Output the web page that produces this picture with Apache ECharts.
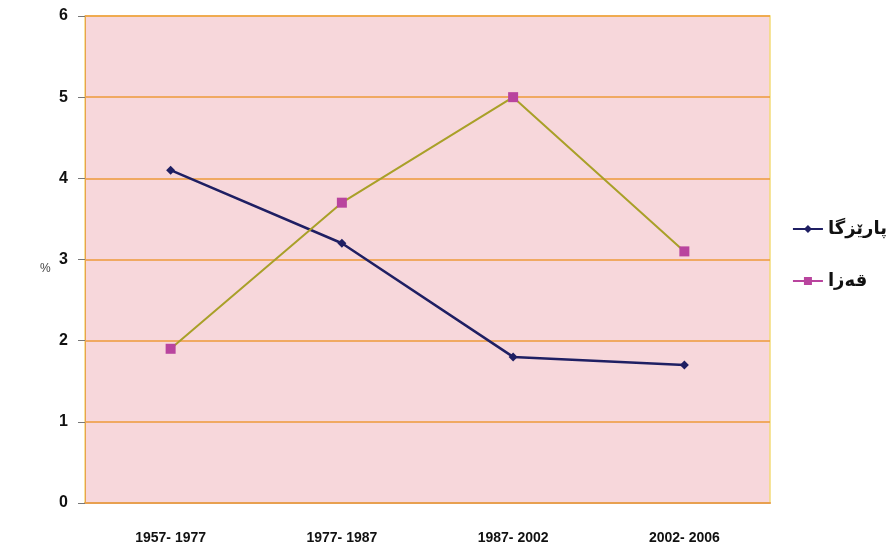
<!DOCTYPE html>
<html><head><meta charset="utf-8">
<script src="https://cdn.jsdelivr.net/npm/echarts@6/dist/echarts.min.js"></script>
<style>html,body{margin:0;padding:0;background:#fff}#c{width:895px;height:554px}</style>
</head><body><div id="c"></div>
<script>
const categories = ['1957- 1977','1977- 1987','1987- 2002','2002- 2006'];
const provinceValues = [4.1, 3.2, 1.8, 1.7];
const districtValues = [1.9, 3.7, 5.0, 3.1];
const seriesNames = ['پارێزگا','قەزا'];
const yUnit = '%';

const chart = echarts.init(document.getElementById('c'));
chart.setOption({
  animation:false,
  backgroundColor:'#ffffff',
  grid:{left:85,right:125,top:16,bottom:51,show:true,backgroundColor:'#f7d7db',borderColor:'#f4dc78',borderWidth:1.5},
  graphic:[{type:'text',left:40,top:263,style:{text:yUnit,fontSize:12,fill:'#444'}}],
  legend:{
    orient:'vertical', right:3, top:215, itemGap:34, itemWidth:30, itemHeight:10,
    textStyle:{fontSize:18,fontWeight:'bold',color:'#111',fontFamily:'Noto Sans, DejaVu Sans'},
    data:[
      {name:seriesNames[0]},
      {name:seriesNames[1],itemStyle:{color:'#b9449e'},lineStyle:{color:'#b9449e'}}
    ]
  },
  xAxis:{type:'category',data:categories,boundaryGap:true,
    axisLine:{lineStyle:{color:'#e8a050',width:2}},
    axisTick:{show:false},
    axisLabel:{margin:28,fontSize:14,fontWeight:900,color:'#111',fontFamily:'Liberation Sans Narrow, Liberation Sans'},
    splitLine:{show:false}},
  yAxis:{type:'value',min:0,max:6,interval:1,
    axisLine:{show:true,lineStyle:{color:'#e8a050',width:1}},
    axisTick:{show:true,length:7,lineStyle:{color:'#777'}},
    axisLabel:{margin:17,fontSize:16,fontWeight:900,color:'#111',fontFamily:'Liberation Sans'},
    splitLine:{lineStyle:{color:'#ee9a3a',width:1.5}}},
  series:[
    {name:seriesNames[0],type:'line',data:provinceValues,symbol:'diamond',symbolSize:9,
      lineStyle:{color:'#1f1f63',width:2.5},itemStyle:{color:'#1f1f63'}},
    {name:seriesNames[1],type:'line',data:districtValues,symbol:'rect',symbolSize:10,
      lineStyle:{color:'#a9a028',width:2},itemStyle:{color:'#b9449e'}}
  ]
});
</script></body></html>
